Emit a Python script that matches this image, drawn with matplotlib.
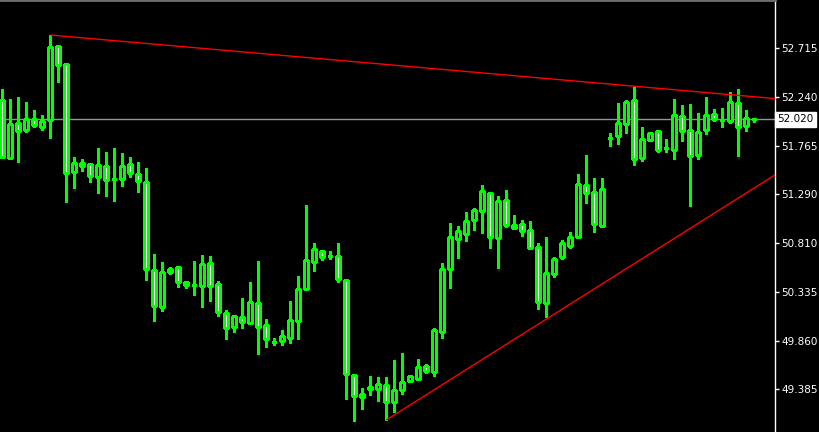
import matplotlib
matplotlib.use('Agg')
import matplotlib.pyplot as plt
from matplotlib.patches import Rectangle
import matplotlib.transforms as mtransforms
import numpy as np

# OHLC values (oldest first)
opens = [52.210, 51.644, 51.986, 51.917, 52.025, 51.947, 52.015, 52.737, 52.562, 51.507,
         51.595, 51.585, 51.458, 51.566, 51.439, 51.439, 51.585, 51.488, 51.410, 50.550,
         50.189, 50.560, 50.579, 50.433, 50.404, 50.394, 50.618, 50.413, 50.130, 49.994,
         50.091, 50.033, 50.228, 50.013, 49.847, 49.857, 49.886, 50.052, 50.365, 50.628,
         50.736, 50.687, 50.687, 50.452, 49.525, 49.339, 49.408, 49.388, 49.427, 49.261,
         49.378, 49.466, 49.486, 49.613, 49.554, 49.945, 50.560, 50.853, 50.902, 51.038,
         51.126, 51.302, 50.863, 51.234, 50.990, 50.999, 50.941, 50.775, 50.228, 50.511,
         50.677, 50.785, 50.872, 51.380, 51.312, 50.980, 51.839, 51.859, 51.976, 52.210,
         51.644, 51.820, 51.907, 51.741, 51.722, 52.054, 51.917, 51.673, 51.917, 52.073,
         52.015, 52.005, 52.181, 51.956, 52.020]
highs = [52.318, 52.220, 52.240, 52.191, 52.113, 52.064, 52.845, 52.737, 52.562, 51.654,
         51.634, 51.585, 51.741, 51.702, 51.741, 51.693, 51.654, 51.605, 51.546, 50.706,
         50.628, 50.579, 50.579, 50.443, 50.638, 50.697, 50.687, 50.443, 50.160, 50.111,
         50.277, 50.433, 50.638, 50.072, 49.886, 49.964, 50.247, 50.492, 51.185, 50.814,
         50.745, 50.736, 50.814, 50.452, 49.535, 49.398, 49.515, 49.505, 49.505, 49.671,
         49.740, 49.525, 49.681, 49.632, 49.984, 50.618, 51.009, 50.980, 51.117, 51.156,
         51.380, 51.312, 51.273, 51.331, 51.087, 51.038, 51.029, 50.814, 50.872, 50.677,
         50.843, 50.921, 51.488, 51.673, 51.449, 51.449, 51.888, 52.181, 52.210, 52.337,
         51.947, 51.898, 51.907, 51.829, 52.220, 52.161, 52.171, 52.083, 52.240, 52.122,
         52.132, 52.288, 52.318, 52.113, 52.020]
lows = [51.644, 51.644, 51.605, 51.898, 51.947, 51.917, 51.839, 52.386, 51.214, 51.351,
        51.517, 51.410, 51.302, 51.273, 51.224, 51.370, 51.458, 51.312, 50.452, 50.052,
        50.150, 50.511, 50.384, 50.374, 50.306, 50.189, 50.247, 50.101, 49.876, 49.945,
        49.984, 50.023, 49.730, 49.798, 49.818, 49.818, 49.837, 49.876, 50.355, 50.540,
        50.648, 50.658, 50.433, 49.290, 49.076, 49.193, 49.329, 49.271, 49.085, 49.163,
        49.339, 49.456, 49.486, 49.544, 49.515, 49.886, 50.374, 50.667, 50.833, 50.941,
        50.911, 50.765, 50.570, 50.970, 50.951, 50.882, 50.765, 50.169, 50.091, 50.482,
        50.658, 50.765, 50.872, 51.204, 50.921, 50.970, 51.761, 51.781, 51.888, 51.576,
        51.615, 51.820, 51.702, 51.702, 51.634, 51.810, 51.175, 51.634, 51.878, 52.005,
        51.947, 51.986, 51.663, 51.907, 51.995]
closes = [51.654, 51.976, 51.907, 52.025, 51.966, 52.005, 52.728, 52.552, 51.497, 51.595,
          51.566, 51.468, 51.576, 51.429, 51.439, 51.566, 51.497, 51.419, 50.560, 50.199,
          50.531, 50.531, 50.433, 50.404, 50.404, 50.609, 50.394, 50.140, 49.984, 50.101,
          50.042, 50.238, 49.994, 49.876, 49.847, 49.906, 50.062, 50.365, 50.648, 50.755,
          50.677, 50.687, 50.462, 49.535, 49.320, 49.310, 49.388, 49.437, 49.261, 49.378,
          49.456, 49.515, 49.603, 49.564, 49.964, 50.560, 50.872, 50.931, 51.029, 51.136,
          51.322, 50.872, 51.224, 50.990, 50.960, 50.931, 50.765, 50.238, 50.521, 50.658,
          50.814, 50.872, 51.390, 51.302, 50.999, 51.341, 51.839, 51.986, 52.191, 51.634,
          51.829, 51.888, 51.722, 51.741, 52.064, 51.907, 51.663, 51.898, 52.064, 52.025,
          52.015, 52.191, 51.947, 52.034, 52.020]

# trendline anchors (bar index, price)
upper_bars = [6, 79]
upper_prices = [52.845, 52.345]
lower_bars = [48, 68]
lower_prices = [49.085, 50.070]

price_ticks = [52.715, 52.240, 51.765, 51.290, 50.810, 50.335, 49.860, 49.385]
bid = 52.020

GREEN = '#00ff00'

fig = plt.figure(figsize=(8.2, 4.32), dpi=100, facecolor='black')
ax = fig.add_axes([0, 0, 775 / 820, 1.0])
ax.set_facecolor('black')

n = len(opens)
xs = np.arange(n)
body_w = 0.5

for i in range(n):
    o, h, l, c = opens[i], highs[i], lows[i], closes[i]
    ax.vlines(xs[i], l, h, color=GREEN, lw=1.0, zorder=2, antialiased=False)
    fill = 'black' if c > o else 'white'
    bottom = min(o, c)
    ax.add_patch(Rectangle((xs[i] - body_w / 2, bottom), body_w, abs(c - o),
                           facecolor=fill, edgecolor=GREEN, lw=1.0, zorder=3,
                           antialiased=False))

xmin, xmax = -0.29, 96.6
ax.set_xlim(xmin, xmax)
ax.set_ylim(48.968, 53.187)

# trendlines, extended to the right edge
for bars, prices in [(upper_bars, upper_prices), (lower_bars, lower_prices)]:
    slope = (prices[1] - prices[0]) / (bars[1] - bars[0])
    xe = np.array([bars[0], xmax])
    ye = prices[0] + slope * (xe - bars[0])
    ax.plot(xe, ye, color='red', lw=1.0, zorder=4, solid_capstyle='butt')

# bid line
ax.axhline(bid, color='#8c96a0', lw=1.0, zorder=1)

# axis styling
for side in ['left', 'bottom']:
    ax.spines[side].set_visible(False)
ax.spines['right'].set_color('white')
ax.spines['right'].set_linewidth(1.0)
ax.spines['top'].set_color('#6e6e6e')
ax.spines['top'].set_linewidth(2.0)

ax.set_xticks([])
ax.yaxis.tick_right()
ax.set_yticks(price_ticks)
ax.set_yticklabels([f'{t:.3f}' for t in price_ticks])
ax.tick_params(axis='y', colors='white', length=3, width=1, direction='out',
               labelsize=7.5, pad=1.5)

trans = mtransforms.blended_transform_factory(ax.transAxes, ax.transData)
ax.text(1.003, bid, f'{bid:.3f}', transform=trans, color='black', fontsize=7.5,
        va='center', ha='left', zorder=6, clip_on=False,
        bbox=dict(boxstyle='square,pad=0.2', facecolor='white', edgecolor='white'))

fig.savefig('out.png', dpi=100, facecolor='black')
